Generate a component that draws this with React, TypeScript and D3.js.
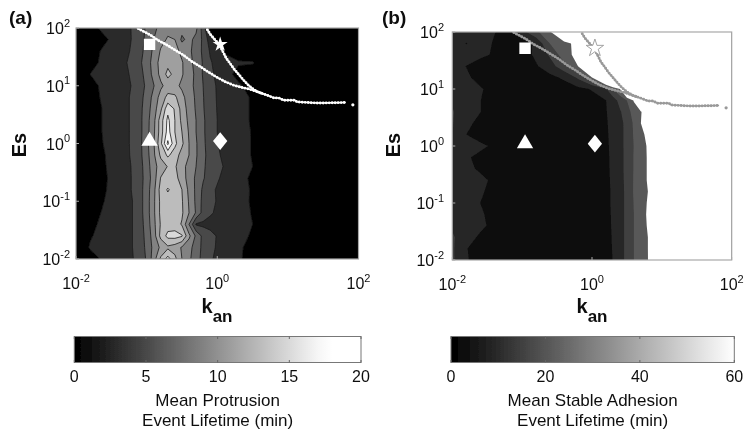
import React from "react";
import * as d3 from "d3";

// log10 grid axes
const esExp = [2, 1.8, 1.6, 1.4, 1.2, 1, 0.8, 0.6, 0.4, 0.2, 0, -0.2, -0.4, -0.6, -0.8, -1, -1.2, -1.4, -1.6, -1.8, -2];
const kExpA = [-2, -1.8, -1.6, -1.4, -1.2, -1.1, -1, -0.9, -0.8, -0.7, -0.6, -0.5, -0.4, -0.3, -0.2, -0.1, 0.1, 0.3, 0.5, 0.7, 2];
const kExpB = [-2, -1.8, -1.6, -1.4, -1.2, -1, -0.8, -0.6, -0.4, -0.2, 0, 0.2, 0.3, 0.4, 0.5, 0.6, 0.7, 0.8, 0.9, 1.2, 2];

// mean protrusion lifetime (min), one row per Es
const protrusion = [
  [0, 1.2, 2.6, 3.2, 4.1, 5, 6.3, 7.5, 8.6, 9.5, 9.8, 8.7, 9.2, 8.5, 5, 1.5, 0, 0, 0, 0, 0],
  [0, 0.4, 1.6, 3, 4.1, 5, 6.6, 8, 9.4, 10.2, 10, 7.6, 8.6, 7.4, 5.6, 3, 0.5, 0, 0, 0, 0],
  [0, 1, 2.4, 3.2, 4.2, 5.2, 6.8, 8.4, 10.2, 11, 10.8, 9.4, 8.4, 7.2, 5.6, 3.8, 1.8, 0.8, 0, 0, 0],
  [0, 1.2, 2.6, 3.4, 4.4, 5.6, 7, 8.8, 10.8, 11.4, 11, 10.2, 8.6, 7.4, 5.8, 4.2, 2.6, 2.2, 2.2, 0.5, 0],
  [0.2, 2, 2.8, 3.4, 4.2, 5.2, 6.8, 8.6, 10.6, 12.6, 11.4, 10.2, 8.8, 7.6, 5.8, 4.4, 2.8, 1.4, 0.6, 0, 0],
  [0, 1.3, 2.5, 3.2, 4.1, 5, 6.4, 7.9, 9.6, 10.8, 10.6, 9.6, 8.6, 7.6, 6, 4.6, 3.1, 2.3, 1.2, 0, 0],
  [0, 1.1, 2.4, 3.3, 4.2, 5.2, 6.8, 8.6, 10.8, 12.6, 12.4, 10.6, 9, 7.7, 6.1, 4.6, 3.2, 2.6, 1.8, 0.6, 0],
  [0, 0.9, 2.2, 3.3, 4.2, 5.4, 7, 9, 11.6, 15.4, 13.8, 11.2, 9.2, 7.8, 6.2, 4.6, 3.3, 2.6, 1.8, 0.6, 0],
  [0, 0.9, 2.2, 3.3, 4.2, 5.4, 7.2, 9.4, 13, 16.5, 14, 11.5, 9.5, 8, 6.4, 4.7, 3.3, 2.6, 1.8, 0.6, 0],
  [0, 0.9, 2.2, 3.3, 4.2, 5.4, 7.2, 9.6, 13, 16.8, 14, 12, 9.8, 8, 6.4, 4.7, 3.3, 2.6, 1.9, 0.6, 0],
  [0, 0.8, 2.1, 3.3, 4.2, 5.4, 7.4, 9.8, 13.5, 18.4, 14.5, 12.4, 10, 8.2, 6.5, 4.8, 3.4, 2.7, 1.9, 0.6, 0],
  [0, 0.7, 1.9, 3.2, 4.2, 5.4, 7.2, 9.6, 12.4, 14.4, 13, 11.2, 10, 8.2, 6.6, 5, 3.6, 2.7, 1.9, 0.6, 0],
  [0, 0.6, 1.8, 3.2, 4.1, 5.2, 7, 9.2, 11, 12.1, 12.3, 10.6, 9.4, 8, 6.4, 5, 3.9, 2.9, 2, 0.7, 0],
  [0, 0.5, 1.7, 3, 4.1, 5.2, 6.8, 9, 12.1, 12.7, 12.6, 11.2, 9, 7.7, 6.2, 5, 3.5, 2.6, 1.7, 0.5, 0],
  [0, 0.7, 1.8, 3, 4.1, 5.2, 7, 9.4, 12.8, 14.2, 13.2, 12, 9.5, 7.6, 5.6, 4.4, 3.3, 2.7, 1.8, 0.6, 0],
  [0, 0.8, 2, 3.1, 4, 5.2, 7, 9.6, 12.5, 13.2, 13, 12.2, 9.8, 7.6, 5.4, 4.4, 3.4, 2.6, 1.8, 0.6, 0],
  [0, 1, 2.3, 3.2, 4, 5.2, 7, 9.6, 12.5, 13.3, 13, 12.3, 10, 7.8, 5.2, 4.2, 3.3, 2.6, 1.9, 0.6, 0],
  [0, 1.4, 2.6, 3.3, 4, 5.1, 6.8, 9.4, 12.2, 13, 13, 11.8, 8, 3.8, 3.6, 3.5, 3, 2.2, 2, 0.6, 0],
  [0, 1.8, 2.8, 3.4, 4, 5, 6.6, 9, 12.6, 14.6, 14.8, 14.2, 10.5, 7.6, 5.4, 4.5, 3.3, 2.5, 1.8, 0.5, 0],
  [0.2, 2.2, 2.9, 3.4, 4, 5, 6.4, 8.6, 10.4, 11.6, 11, 9.8, 8.6, 7.2, 5.4, 4.4, 3.3, 2.2, 1.6, 0.4, 0],
  [0, 1.1, 2.4, 3.2, 3.9, 4.8, 6.2, 9, 12.4, 14.8, 12.6, 10, 8.4, 6.8, 5.4, 4.2, 3.2, 2.2, 1.4, 0.3, 0],
];

// mean stable adhesion lifetime (min)
const adhesion = [
  [9, 9, 8.5, 6.2, 4.5, 10, 16.7, 23, 40, 60, 60, 60, 60, 60, 60, 60, 60, 60, 60, 60, 60],
  [9, 5.8, 8, 5.6, 3.5, 3.5, 7.1, 18.2, 21, 27, 60, 60, 60, 60, 60, 60, 60, 60, 60, 60, 60],
  [9, 8.8, 7, 5.5, 3.4, 3.4, 7.1, 13, 21.3, 26.2, 60, 60, 60, 60, 60, 60, 60, 60, 60, 60, 60],
  [8, 5.9, 4, 3, 3, 3, 5.4, 9.4, 15.9, 24, 40, 60, 60, 60, 60, 60, 60, 60, 60, 60, 60],
  [8, 6.8, 4.5, 3, 3, 3, 3, 4.5, 7, 13, 24, 45, 60, 60, 60, 60, 60, 60, 60, 60, 60],
  [8, 7.5, 6.4, 4.6, 3, 3, 3, 3, 3.2, 4.5, 6.4, 11.5, 17.6, 24, 45, 60, 60, 60, 60, 60, 60],
  [11, 8, 6.1, 4, 3, 3, 3, 3, 3, 3.2, 4, 5.9, 9.4, 13.8, 18, 24.5, 45, 60, 60, 60, 60],
  [12.6, 8, 6.1, 4, 3, 3, 3, 3, 3, 3.2, 4, 5.8, 7.4, 11.4, 15, 21, 23.6, 28, 45, 60, 60],
  [12.4, 6.9, 5, 3.6, 3, 3, 3, 3, 3, 3.2, 4, 5.6, 7.2, 10.6, 13.5, 19, 24, 30, 45, 60, 60],
  [12.2, 6, 4, 3, 3, 3, 3, 3, 3, 3.2, 4, 5.5, 7, 10.4, 13.6, 18.6, 22, 26, 45, 60, 60],
  [8.5, 8, 7, 5.2, 3, 3, 3, 3, 3, 3.2, 3.6, 5.3, 7, 10.5, 13.5, 18.2, 21, 24.8, 45, 60, 60],
  [8, 6.6, 4.8, 3.2, 3, 3, 3, 3, 3, 3.2, 3.6, 5.2, 6.9, 10.4, 13.5, 18.4, 21, 24.6, 42, 60, 60],
  [8, 7, 5.4, 3.4, 3, 3, 3, 3, 3, 3.2, 3.5, 5.2, 6.8, 10.4, 13.5, 18.4, 21, 24.6, 42, 60, 60],
  [8.5, 8, 7, 5.2, 3, 3, 3, 3, 3, 3.2, 3.5, 5.1, 6.7, 10.2, 13.5, 18.5, 21, 24.6, 42, 60, 60],
  [8.5, 7.6, 6.6, 4.6, 3, 3, 3, 3, 3, 3.2, 3.5, 5, 6.6, 10, 13.4, 18.6, 21, 24, 40, 60, 60],
  [8.5, 7.4, 6, 4, 3, 3, 3, 3, 3, 3.2, 3.5, 5, 6.6, 10, 13.4, 18.3, 21, 24.6, 42, 60, 60],
  [9, 7.6, 6.6, 4.6, 3, 3, 3, 3, 3, 3.2, 3.4, 4.9, 6.5, 10, 13.4, 18, 21, 25, 44, 60, 60],
  [11, 8, 6.8, 5, 3, 3, 3, 3, 3, 3.2, 3.4, 4.9, 6.4, 10, 13.4, 18, 21, 24.6, 42, 60, 60],
  [13, 7.5, 5.4, 3.6, 3, 3, 3, 3, 3, 3.2, 3.4, 4.8, 6.3, 10, 13.4, 18, 21, 24, 40, 60, 60],
  [13, 6.2, 4.2, 3, 3, 3, 3, 3, 3, 3.2, 3.3, 4.8, 6.2, 10, 13.4, 18, 21, 24, 38, 60, 60],
  [13, 6.4, 4.2, 3, 3, 3, 3, 3, 3, 3.2, 3.3, 4.7, 6.1, 10, 13.4, 18, 21, 23.8, 38, 60, 60],
];

// phase boundaries, log10 k against log10 Es
const lowerK = [-1.12, -0.95, -0.83, -0.72, -0.6, -0.48, -0.36, -0.24, -0.13, -0.01, 0.11, 0.23, 0.35, 0.46, 0.58, 0.72, 0.8, 0.87, 0.94, 1.1, 1.13, 1.43, 1.81];
const lowerEs = [1.99, 1.88, 1.78, 1.71, 1.62, 1.53, 1.42, 1.33, 1.24, 1.15, 1.07, 1.01, 0.97, 0.94, 0.89, 0.83, 0.79, 0.79, 0.75, 0.75, 0.72, 0.7, 0.71];
const upperK = [-0.14, -0.1, -0.05, 0.03, 0.08, 0.13, 0.18, 0.23, 0.3, 0.37, 0.44, 0.51, 0.58, 0.65];
const upperEs = [1.97, 1.89, 1.82, 1.71, 1.59, 1.47, 1.39, 1.3, 1.2, 1.1, 1.01, 0.94, 0.89, 0.86];
const loneK = 1.92;
const loneEs = 0.67;

const markerK = [0.11, 1.1];
const markerEs = [52, 1.1];

const levelsA = [2, 4, 6, 8, 10, 12, 14, 16, 18];
const levelsB = [6, 12, 18, 24];
const axisTicksK = [-2, 0, 2];
const axisTicksEs = [2, 1, 0, -1, -2];
const barTicksA = [0, 5, 10, 15, 20];
const barTicksB = [0, 20, 40, 60];

const grayA = d3.scaleLinear<string>().domain([0, 17.6]).range(["#000", "#fff"]).clamp(true);
const grayB = d3.scaleLinear<string>().domain([0, 60]).range(["#000", "#fff"]).clamp(true);

const sans = "'Liberation Sans', Arial, sans-serif";
const edge = "#a8a8a8";

const symbolPath = (type: any, size: number) => d3.symbol().type(type).size(size)() as string;

const Power = ({ exp, ...rest }: any) => (
  <text fontFamily={sans} fontSize={16} fill="#111" {...rest}>
    10
    <tspan dy={-7.5} fontSize={11}>
      {exp}
    </tspan>
  </text>
);

const Panel = ({ tag, tagX, left, right, top, bottom, kExp, grid, levels, bandFill, base, lines, curve, starFill, starStroke, labelX, esX, kX }: any) => {
  const x = d3.scaleLog().domain([1e-2, 1e2]).range([left, right]);
  const y = d3.scaleLog().domain([1e-2, 1e2]).range([bottom, top]);
  const n = kExp.length;
  const m = esExp.length;

  // contour coordinates sit half a cell off the grid nodes
  const colToExp = d3.scaleLinear().domain([0, ...kExp.map((_: number, i: number) => i + 0.5), n]).range([kExp[0], ...kExp, kExp[n - 1]]);
  const rowToExp = d3.scaleLinear().domain([0, ...esExp.map((_, i) => i + 0.5), m]).range([esExp[0], ...esExp, esExp[m - 1]]);
  const path = d3.geoPath(
    d3.geoTransform({
      point(px: number, py: number) {
        (this as any).stream.point(x(10 ** colToExp(px)), y(10 ** rowToExp(py)));
      },
    })
  );
  const bands = d3.contours().size([n, m]).smooth(true).thresholds(levels)(grid.flat());

  const curvePath = (ks: number[], es: number[]) =>
    d3.line<number>().x((e) => x(10 ** e)).y((_, i) => y(10 ** es[i]))(ks) as string;

  const sx = x(markerK[0]);
  const dx = x(markerK[1]);
  const hi = y(markerEs[0]);
  const lo = y(markerEs[1]);
  const clipId = `clip-${tag}`;

  return (
    <g>
      <clipPath id={clipId}>
        <rect x={left} y={top} width={right - left} height={bottom - top} />
      </clipPath>
      <text x={tagX} y={24} fontFamily={sans} fontSize={19} fontWeight="bold" fill="#111">
        ({tag})
      </text>
      <g clipPath={`url(#${clipId})`}>
        <rect x={left} y={top} width={right - left} height={bottom - top} fill={base} />
        {bands.map((b: any) => (
          <path key={b.value} d={path(b) as string} fill={bandFill(b.value)} stroke={lines ? "#1a1a1a" : "none"} strokeWidth={0.8} />
        ))}
        {[
          [lowerK, lowerEs],
          [upperK, upperEs],
        ].map(([ks, es], i) => (
          <g key={i} fill="none" stroke={curve} strokeLinecap="round" strokeLinejoin="round">
            <path d={curvePath(ks, es)} strokeWidth={1.5} />
            <path d={curvePath(ks, es)} strokeWidth={2.9} strokeDasharray="0 3" />
          </g>
        ))}
        <circle cx={x(10 ** loneK)} cy={y(10 ** loneEs)} r={1.6} fill={curve} />
        <path d={symbolPath(d3.symbolSquare, 130)} transform={`translate(${sx},${hi})`} fill="#fff" />
        <path d={symbolPath(d3.symbolTriangle, 115)} transform={`translate(${sx},${lo})`} fill="#fff" />
        <path d={symbolPath(d3.symbolSquare, 160)} transform={`translate(${dx},${lo}) scale(0.8,1) rotate(45)`} fill="#fff" />
        <path d={symbolPath(d3.symbolStar, starStroke === "none" ? 70 : 95)} transform={`translate(${dx},${hi})`} fill={starFill} stroke={starStroke} strokeWidth={0.9} />
      </g>
      <rect x={left} y={top} width={right - left} height={bottom - top} fill="none" stroke={edge} strokeWidth={1.2} />
      {axisTicksK.map((e: number) => (
        <g key={e}>
          <line x1={x(10 ** e)} x2={x(10 ** e)} y1={bottom} y2={bottom - 3} stroke={edge} />
          <Power exp={e} x={x(10 ** e)} y={bottom + 30} textAnchor="middle" />
        </g>
      ))}
      {axisTicksEs.map((e: number) => (
        <g key={e}>
          <line x1={left} x2={left + 3} y1={y(10 ** e)} y2={y(10 ** e)} stroke={edge} />
          <Power exp={e} x={labelX} y={y(10 ** e) + 6} textAnchor="end" />
        </g>
      ))}
      <text transform={`translate(${esX},145) rotate(-90)`} textAnchor="middle" fontFamily={sans} fontSize={20} fontWeight="bold" fill="#111">
        Es
      </text>
      <text x={kX} y={313} textAnchor="middle" fontFamily={sans} fontSize={20} fontWeight="bold" fill="#111">
        k
        <tspan dy={9} fontSize={17}>
          an
        </tspan>
      </text>
    </g>
  );
};

const ColorBar = ({ id, left, right, max, ticks, gray, title }: any) => {
  const x = d3.scaleLinear().domain([0, max]).range([left, right]);
  const top = 336.5;
  const bottom = 362.5;
  const centre = (left + right) / 2;
  return (
    <g>
      <linearGradient id={id}>
        {d3.range(0, 1.001, 0.05).map((t) => (
          <stop key={t} offset={t} stopColor={gray(t * max)} />
        ))}
      </linearGradient>
      <rect x={left} y={top} width={right - left} height={bottom - top} fill={`url(#${id})`} stroke="#777" strokeWidth={1} />
      {ticks.map((t: number) => (
        <g key={t}>
          <line x1={x(t)} x2={x(t)} y1={top} y2={top + 2.5} stroke="#666" />
          <line x1={x(t)} x2={x(t)} y1={bottom} y2={bottom - 2.5} stroke="#666" />
          <text x={x(t)} y={382} textAnchor="middle" fontFamily={sans} fontSize={16} fill="#111">
            {t}
          </text>
        </g>
      ))}
      {title.map((line: string, i: number) => (
        <text key={line} x={centre} y={405.5 + i * 20.5} textAnchor="middle" fontFamily={sans} fontSize={17} fill="#111">
          {line}
        </text>
      ))}
    </g>
  );
};

export default function App() {
  return (
    <svg width={750} height={438} style={{ position: "fixed", left: 0, top: 0, display: "block", background: "#fff" }}>
      <filter id="soft">
        <feGaussianBlur stdDeviation={0.55} />
      </filter>
      <g filter="url(#soft)">
        <Panel
          tag="a"
          tagX={9}
          left={76}
          right={358.5}
          top={28}
          bottom={259}
          kExp={kExpA}
          grid={protrusion}
          levels={levelsA}
          bandFill={(v: number) => grayA(v + 1)}
          base="#000"
          lines
          curve="#fff"
          starFill="#fff"
          starStroke="none"
          labelX={70}
          esX={26}
          kX={217}
        />
        <Panel
          tag="b"
          tagX={382}
          left={452.3}
          right={731.7}
          top={32}
          bottom={260}
          kExp={kExpB}
          grid={adhesion}
          levels={levelsB}
          bandFill={(v: number) => (v >= 24 ? "#fff" : grayB(v + 3))}
          base="#0d0d0d"
          lines={false}
          curve="#999"
          starFill="#fff"
          starStroke="#999"
          labelX={444}
          esX={400}
          kX={592}
        />
        <ColorBar id="barA" left={74.3} right={361} max={20} ticks={barTicksA} gray={grayA} title={["Mean Protrusion", "Event Lifetime (min)"]} />
        <ColorBar id="barB" left={451} right={734.3} max={60} ticks={barTicksB} gray={grayB} title={["Mean Stable Adhesion", "Event Lifetime (min)"]} />
      </g>
    </svg>
  );
}
